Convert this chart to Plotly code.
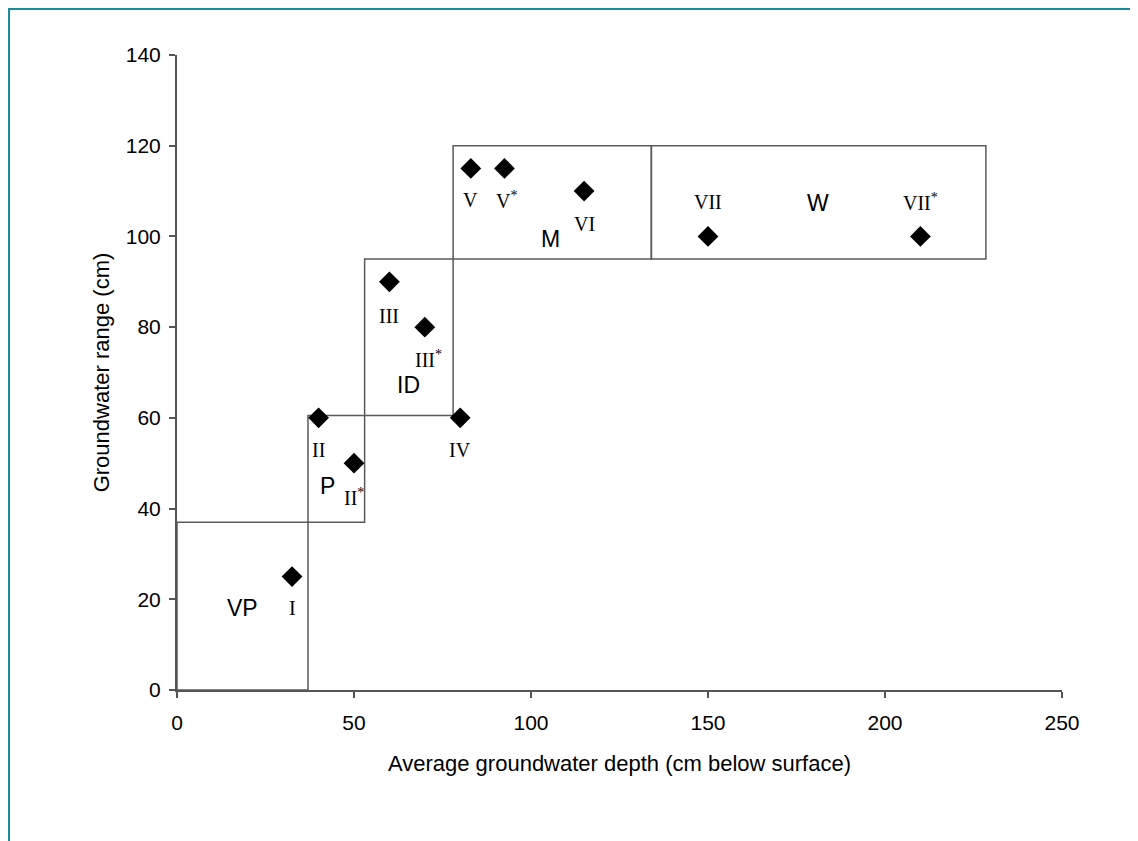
import plotly.graph_objects as go

# Data
point_ids = ["I", "II", "II*", "III", "III*", "IV", "V", "V*", "VI", "VII", "VII*"]
depth = [32.5, 40, 50, 60, 70, 80, 83, 92.5, 115, 150, 210]
range_cm = [25, 60, 50, 90, 80, 60, 115, 115, 110, 100, 100]

label_x = [32.5, 40, 50, 60, 71, 80, 83, 93, 115, 150, 210]
label_y = [18, 53, 42.5, 82.5, 73, 53, 108, 108, 102.7, 107.7, 107.7]

classes = ["VP", "P", "ID", "M", "W"]
class_x0 = [0, 37, 53, 78, 134]
class_x1 = [37, 53, 78, 134, 228.5]
class_y0 = [0, 37, 60.5, 95, 95]
class_y1 = [37, 60.5, 95, 120, 120]
class_lx = [18.5, 42.5, 65.5, 105.5, 181]
class_ly = [18, 45, 67.2, 99.4, 107.4]

x_ticks = [0, 50, 100, 150, 200, 250]
y_ticks = [0, 20, 40, 60, 80, 100, 120, 140]

fig = go.Figure()

fig.add_trace(go.Scatter(
    x=depth, y=range_cm, mode="markers",
    marker=dict(symbol="diamond", size=16, color="black"),
    showlegend=False, hoverinfo="skip", cliponaxis=False,
))

shapes = []
for x0, x1, y0, y1 in zip(class_x0, class_x1, class_y0, class_y1):
    shapes.append(dict(type="rect", xref="x", yref="y", x0=x0, x1=x1, y0=y0, y1=y1,
                       line=dict(color="#5a5a5a", width=1.5), layer="below"))

# teal frame of the page
shapes.append(dict(type="line", xref="paper", yref="paper", x0=-0.1898, x1=-0.1898,
                   y0=1.074, y1=-0.27, line=dict(color="#1a8a99", width=2)))
shapes.append(dict(type="line", xref="paper", yref="paper", x0=-0.1898, x1=1.12,
                   y0=1.0725, y1=1.0725, line=dict(color="#1a8a99", width=2)))

annotations = []
for t, x, y in zip(point_ids, label_x, label_y):
    txt = t.replace("*", "<sup>*</sup>")
    annotations.append(dict(x=x, y=y, xref="x", yref="y", text=txt, showarrow=False,
                            xanchor="center", yanchor="middle",
                            font=dict(family="Liberation Serif", size=20, color="black")))
for t, x, y in zip(classes, class_lx, class_ly):
    annotations.append(dict(x=x, y=y, xref="x", yref="y", text=t, showarrow=False,
                            xanchor="center", yanchor="middle",
                            font=dict(family="Liberation Sans", size=23, color="black")))

fig.update_layout(
    width=1138, height=841,
    margin=dict(l=169, r=84, t=47, b=159),
    paper_bgcolor="white", plot_bgcolor="white",
    shapes=shapes, annotations=annotations,
    font=dict(family="Liberation Sans", size=21, color="black"),
    xaxis=dict(range=[0, 250], tickvals=x_ticks, showgrid=False, zeroline=False,
               showline=True, linecolor="#555555", linewidth=2,
               ticks="outside", ticklen=6, tickcolor="#555555", tickwidth=1.5,
               ticklabelstandoff=7,
               title=dict(text="Average groundwater depth (cm below surface)",
                          font=dict(size=22), standoff=22)),
    yaxis=dict(range=[0, 140], tickvals=y_ticks, showgrid=False, zeroline=False,
               showline=True, linecolor="#555555", linewidth=2,
               ticks="outside", ticklen=6, tickcolor="#555555", tickwidth=1.5,
               ticklabelstandoff=4,
               title=dict(text="Groundwater range (cm)", font=dict(size=22), standoff=10)),
)

fig.write_html("out.html")
